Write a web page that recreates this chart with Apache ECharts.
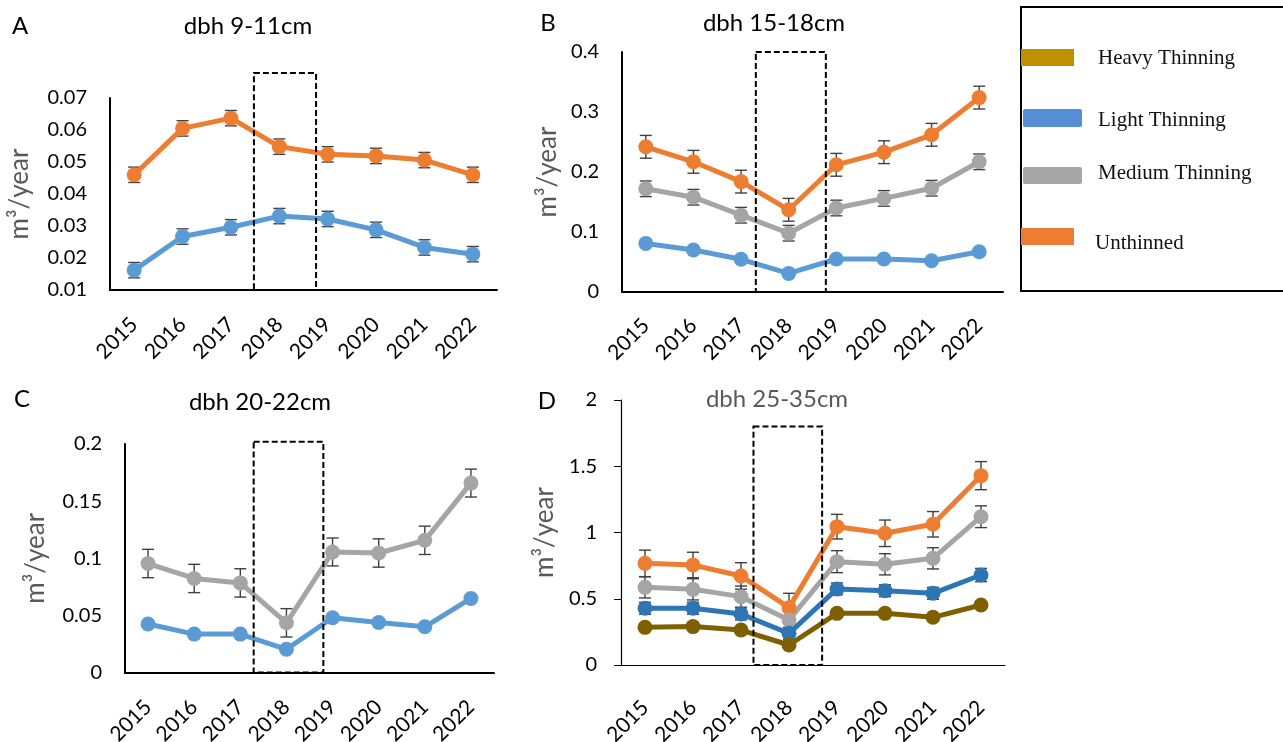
<!DOCTYPE html>
<html>
<head>
<meta charset="utf-8">
<script src="https://cdn.jsdelivr.net/npm/echarts@6/dist/echarts.min.js"></script>
<style>html,body{margin:0;padding:0;background:#fff;}#c{width:1283px;height:742px;}</style>
</head>
<body>
<div id="c"></div>
<script>
// ---------- data ----------
const years = ['2015','2016','2017','2018','2019','2020','2021','2022'];

const A_unthinned = [0.0460, 0.0605, 0.0637, 0.0548, 0.0524, 0.0519, 0.0506, 0.0460];
const A_unthinned_err = [0.0024, 0.0024, 0.0024, 0.0024, 0.0024, 0.0024, 0.0024, 0.0024];
const A_light = [0.0162, 0.0267, 0.0296, 0.0331, 0.0322, 0.0288, 0.0233, 0.0212];
const A_light_err = [0.0024, 0.0024, 0.0024, 0.0024, 0.0024, 0.0024, 0.0024, 0.0024];

const B_unthinned = [0.242, 0.217, 0.184, 0.137, 0.212, 0.233, 0.262, 0.324];
const B_unthinned_err = [0.019, 0.019, 0.019, 0.019, 0.019, 0.019, 0.019, 0.019];
const B_medium = [0.172, 0.158, 0.128, 0.098, 0.140, 0.156, 0.173, 0.217];
const B_medium_err = [0.013, 0.013, 0.013, 0.013, 0.013, 0.013, 0.013, 0.013];
const B_light = [0.081, 0.070, 0.0545, 0.031, 0.055, 0.055, 0.052, 0.067];

const C_medium = [0.0954, 0.0823, 0.0784, 0.0435, 0.1055, 0.1046, 0.1157, 0.1658];
const C_medium_err = [0.0124, 0.0124, 0.0124, 0.0124, 0.0122, 0.0124, 0.0124, 0.0122];
const C_light = [0.0424, 0.0336, 0.0336, 0.0203, 0.0479, 0.0438, 0.0400, 0.0648];

const D_unthinned = [0.767, 0.755, 0.672, 0.433, 1.044, 0.994, 1.062, 1.429];
const D_unthinned_err = [0.100, 0.096, 0.100, 0.108, 0.093, 0.100, 0.096, 0.106];
const D_medium = [0.586, 0.571, 0.516, 0.340, 0.780, 0.760, 0.805, 1.119];
const D_medium_err = [0.080, 0.080, 0.080, 0.080, 0.083, 0.080, 0.080, 0.082];
const D_light = [0.428, 0.428, 0.385, 0.239, 0.574, 0.561, 0.541, 0.679];
const D_light_err = [0.045, 0.045, 0.045, 0.045, 0.045, 0.045, 0.045, 0.050];
const D_heavy = [0.284, 0.290, 0.264, 0.151, 0.390, 0.390, 0.360, 0.453];

const panelTitles = ['dbh 9-11cm', 'dbh 15-18cm', 'dbh 20-22cm', 'dbh 25-35cm'];
const panelLetters = ['A', 'B', 'C', 'D'];
const yAxisName = 'm³/year';
const legendNames = ['Heavy Thinning', 'Light Thinning', 'Medium Thinning', 'Unthinned'];

// highlight box (2018) in category-index / value units: [x0, x1, y0, y1]
const boxA = [2.475, 3.76, 0.01, 0.0778];
const boxB = [2.31, 3.78, 0, 0.4];
const boxC = [2.29, 3.80, 0, 0.202];
const boxD = [2.26, 3.69, 0, 1.8];

// ---------- styles ----------
const ORANGE = '#ED7D31', BLUE = '#5B9BD5', GRAY = '#A5A5A5', DBLUE = '#2E75B6', BROWN = '#7F6000';
const FONT = 'Lato';

const grids = [
  {left: 110, top: 98, width: 387, height: 192, outerBoundsMode: 'none', containLabel: false},
  {left: 622, top: 52, width: 381, height: 240, outerBoundsMode: 'none', containLabel: false},
  {left: 125, top: 444, width: 369, height: 228.5, outerBoundsMode: 'none', containLabel: false},
  {left: 621, top: 400, width: 384, height: 265, outerBoundsMode: 'none', containLabel: false}
];
const yRanges = [
  {min: 0.01, max: 0.07, interval: 0.01, gap: 77, xMargin: 31},
  {min: 0, max: 0.4, interval: 0.1, gap: 61, xMargin: 30},
  {min: 0, max: 0.2, interval: 0.05, gap: 76, xMargin: 31},
  {min: 0, max: 2, interval: 0.5, gap: 63, xMargin: 39}
];

function xAxisCfg(i) {
  const thin = i === 3;
  return {
    gridIndex: i, type: 'category', data: years, boundaryGap: true,
    axisLine: {show: true, lineStyle: {color: '#000', width: thin ? 1.2 : 2}},
    axisTick: {show: false}, splitLine: {show: false},
    axisLabel: {rotate: 45, interval: 0, fontSize: 21, color: '#000', fontFamily: FONT, margin: yRanges[i].xMargin}
  };
}
function yAxisCfg(i) {
  const thin = i === 3, r = yRanges[i];
  return {
    gridIndex: i, type: 'value', min: r.min, max: r.max, interval: r.interval,
    axisLine: {show: true, lineStyle: {color: '#000', width: thin ? 1.2 : 2}},
    axisTick: {show: thin, length: 7, lineStyle: {color: '#000', width: 1}},
    splitLine: {show: false},
    axisLabel: {fontSize: 20, color: '#000', fontFamily: FONT, margin: thin ? 24 : 23},
    name: yAxisName, nameLocation: 'middle', nameGap: r.gap,
    nameTextStyle: {fontSize: 26, color: '#595959', fontFamily: FONT}
  };
}

function lineSeries(i, name, data, color) {
  return {
    type: 'line', name: name, xAxisIndex: i, yAxisIndex: i, data: data,
    symbol: 'circle', symbolSize: 15, z: 3,
    lineStyle: {color: color, width: 5},
    itemStyle: {color: color},
    emphasis: {disabled: true}, animation: false
  };
}
function errSeries(i, vals, errs) {
  return {
    type: 'custom', xAxisIndex: i, yAxisIndex: i, z: 2, animation: false, silent: true,
    data: vals.map((v, k) => [k, v - errs[k], v + errs[k]]),
    encode: {x: 0, y: [1, 2]},
    renderItem: function (params, api) {
      const x = api.value(0);
      const top = api.coord([x, api.value(2)]);
      const bot = api.coord([x, api.value(1)]);
      const w = 6, st = {stroke: '#404040', lineWidth: 1.4};
      return {type: 'group', children: [
        {type: 'line', shape: {x1: top[0], y1: top[1], x2: bot[0], y2: bot[1]}, style: st},
        {type: 'line', shape: {x1: top[0] - w, y1: top[1], x2: top[0] + w, y2: top[1]}, style: st},
        {type: 'line', shape: {x1: bot[0] - w, y1: bot[1], x2: bot[0] + w, y2: bot[1]}, style: st}
      ]};
    }
  };
}

const series = [
  errSeries(0, A_unthinned, A_unthinned_err),
  errSeries(0, A_light, A_light_err),
  lineSeries(0, 'Unthinned', A_unthinned, ORANGE),
  lineSeries(0, 'Light Thinning', A_light, BLUE),

  errSeries(1, B_unthinned, B_unthinned_err),
  errSeries(1, B_medium, B_medium_err),
  lineSeries(1, 'Unthinned', B_unthinned, ORANGE),
  lineSeries(1, 'Medium Thinning', B_medium, GRAY),
  lineSeries(1, 'Light Thinning', B_light, BLUE),

  errSeries(2, C_medium, C_medium_err),
  lineSeries(2, 'Medium Thinning', C_medium, GRAY),
  lineSeries(2, 'Light Thinning', C_light, BLUE),

  errSeries(3, D_unthinned, D_unthinned_err),
  errSeries(3, D_medium, D_medium_err),
  errSeries(3, D_light, D_light_err),
  lineSeries(3, 'Unthinned', D_unthinned, ORANGE),
  lineSeries(3, 'Medium Thinning', D_medium, GRAY),
  lineSeries(3, 'Light Thinning', D_light, DBLUE),
  lineSeries(3, 'Heavy Thinning', D_heavy, BROWN)
];

const chart = echarts.init(document.getElementById('c'), null, {renderer: 'canvas'});
chart.setOption({
  backgroundColor: '#fff',
  animation: false,
  textStyle: {fontFamily: FONT},
  grid: grids,
  xAxis: [0, 1, 2, 3].map(xAxisCfg),
  yAxis: [0, 1, 2, 3].map(yAxisCfg),
  series: series
});

// ---------- annotations ----------
function px(g, xi, yv) {
  const i0 = Math.floor(xi), f = xi - i0;
  const a = chart.convertToPixel({gridIndex: g}, [i0, yv]);
  const b = chart.convertToPixel({gridIndex: g}, [i0 + 1, yv]);
  return [a[0] + f * (b[0] - a[0]), a[1]];
}
function boxGraphic(g, box) {
  const p0 = px(g, box[0], box[3]);
  const p1 = px(g, box[1], box[2]);
  return {
    type: 'rect', z: 10, silent: true,
    shape: {x: p0[0], y: p0[1], width: p1[0] - p0[0], height: p1[1] - p0[1]},
    style: {fill: 'none', stroke: '#000', lineWidth: 2, lineDash: [6, 3]}
  };
}

const titlePos = [[248, 26], [774, 23], [260, 402], [777, 399]];
const letterPos = [[20, 26], [548, 23], [22, 399], [547, 401]];
const graphics = [boxGraphic(0, boxA), boxGraphic(1, boxB), boxGraphic(2, boxC), boxGraphic(3, boxD)];
for (let i = 0; i < 4; i++) {
  graphics.push({type: 'text', x: titlePos[i][0], y: titlePos[i][1], silent: true,
    style: {text: panelTitles[i], fontSize: 24, fontFamily: FONT, fill: i === 3 ? '#595959' : '#000',
      align: 'center', verticalAlign: 'middle'}});
  graphics.push({type: 'text', x: letterPos[i][0], y: letterPos[i][1], silent: true,
    style: {text: panelLetters[i], fontSize: 24, fontFamily: FONT, fill: '#000',
      align: 'center', verticalAlign: 'middle'}});
}
// legend panel
graphics.push({type: 'rect', silent: true, shape: {x: 1021, y: 7, width: 280, height: 284},
  style: {fill: 'none', stroke: '#000', lineWidth: 2}});
const legendColors = ['#BF9000', '#558ED5', '#A6A6A6', '#ED7D31'];
const legendSw = [[1021, 49, 53, 17, 0], [1023, 109, 59, 18, 2], [1023, 167, 59, 17, 2], [1021, 228, 53, 17, 0]];
const legendTxt = [[1098, 58], [1098, 120], [1098, 173], [1095, 243]];
for (let i = 0; i < 4; i++) {
  const s = legendSw[i];
  graphics.push({type: 'rect', silent: true, shape: {x: s[0], y: s[1], width: s[2], height: s[3], r: s[4]},
    style: {fill: legendColors[i]}});
  graphics.push({type: 'text', silent: true, x: legendTxt[i][0], y: legendTxt[i][1],
    style: {text: legendNames[i], fontSize: 21, fontFamily: 'Liberation Serif', fill: '#111',
      align: 'left', verticalAlign: 'middle'}});
}
chart.setOption({graphic: graphics});
</script>
</body>
</html>
